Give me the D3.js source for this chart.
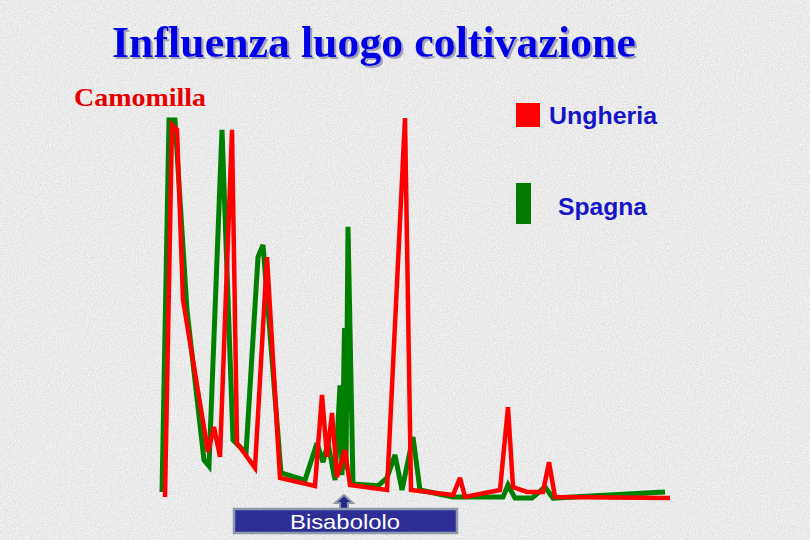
<!DOCTYPE html>
<html>
<head>
<meta charset="utf-8">
<script src="https://cdn.jsdelivr.net/npm/d3@7"></script>
<style>
html,body{margin:0;padding:0;background:#e6e6e6;}
svg{display:block;}
</style>
</head>
<body>
<svg id="chart" width="810" height="540"></svg>
<script>
// Retention time (min) and relative intensity (%)
const ungheriaTime = [0.5,1.2,1.7,2.3,4.8,5.4,6.0,7.2,7.7,8.7,9.5,10.7,12.0,15.5,16.2,16.7,17.2,17.7,18.5,19.0,22.7,24.5,25.1,29.3,30.0,30.5,34.0,34.8,35.3,36.7,38.3,38.9,39.5,51.0];
const ungheriaInt  = [0.8,98.2,96.9,52.4,12.6,19.1,11.3,96.9,14.9,11.3,8.4,63.6,5.8,3.7,27.5,11.3,22.8,6.0,13.1,3.9,2.6,100,2.6,1.3,5.8,0.8,2.6,24.3,3.4,2.1,2.1,9.9,0.8,0.5];

const spagnaTime = [0.2,0.9,1.5,2.7,4.4,4.9,6.2,7.3,8.6,9.8,10.3,12.1,14.5,15.7,16.3,16.8,17.5,18.0,18.2,18.45,18.6,18.8,19.3,21.8,22.7,23.5,24.2,25.3,26.0,29.3,34.3,34.8,35.5,37.2,38.5,39.3,50.5];
const spagnaInt  = [2.1,99.5,99.5,49.7,10.5,8.9,96.9,15.7,12.3,63.6,66.8,7.1,5.2,14.9,9.9,14.9,5.2,30.0,6.5,45.0,8.0,71.5,4.2,3.7,5.8,11.8,2.6,16.5,2.6,0.8,0.8,3.9,0.5,0.5,3.4,0.5,2.1];

const seriesNames = ["Ungheria","Spagna"];
const titleText = "Influenza luogo coltivazione";
const subtitleText = "Camomilla";
const markerLabel = "Bisabololo";
const markerTime = 18.5;

const svg = d3.select("#chart");
const W = 810, H = 540;

// background texture
const defs = svg.append("defs");
const f = defs.append("filter").attr("id","noise").attr("x",0).attr("y",0).attr("width","100%").attr("height","100%");
f.append("feTurbulence").attr("type","fractalNoise").attr("baseFrequency",0.85).attr("numOctaves",2).attr("seed",3).attr("result","t");
f.append("feColorMatrix").attr("in","t").attr("type","matrix")
  .attr("values","0 0 0 0 1  0 0 0 0 1  0 0 0 0 1  1.6 0 0 0 -0.55");
const f2 = defs.append("filter").attr("id","noise2").attr("x",0).attr("y",0).attr("width","100%").attr("height","100%");
f2.append("feTurbulence").attr("type","fractalNoise").attr("baseFrequency",0.7).attr("numOctaves",1).attr("seed",9).attr("result","t");
f2.append("feColorMatrix").attr("in","t").attr("type","matrix")
  .attr("values","0 0 0 0 0.55  0 0 0 0 0.55  0 0 0 0 0.55  1.4 0 0 0 -0.8");
const sh = defs.append("filter").attr("id","shadow").attr("x","-5%").attr("y","-20%").attr("width","110%").attr("height","140%");
sh.append("feDropShadow").attr("dx",2).attr("dy",2).attr("stdDeviation",0.6).attr("flood-color","#9a9aae").attr("flood-opacity",0.9);

svg.append("rect").attr("width",W).attr("height",H).attr("fill","#e4e4e4");
svg.append("rect").attr("width",W).attr("height",H).attr("filter","url(#noise)");
svg.append("rect").attr("width",W).attr("height",H).attr("filter","url(#noise2)");

// scales
const x = d3.scaleLinear().domain([0,51]).range([160,670]);
const y = d3.scaleLinear().domain([0,100]).range([500,118]);

const line = d3.line().x(d=>x(d[0])).y(d=>y(d[1]));
const green = d3.zip(spagnaTime, spagnaInt);
const red = d3.zip(ungheriaTime, ungheriaInt);

svg.append("path").datum(green).attr("d",line).attr("fill","none")
  .attr("stroke","#008000").attr("stroke-width",5).attr("stroke-linejoin","miter").attr("stroke-miterlimit",3);
svg.append("path").datum(red).attr("d",line).attr("fill","none")
  .attr("stroke","#ff0000").attr("stroke-width",4.5).attr("stroke-linejoin","miter").attr("stroke-miterlimit",3);

// title with shadow
svg.append("text").attr("x",374).attr("y",57).attr("text-anchor","middle")
  .attr("font-family","Liberation Serif, Times New Roman, serif").attr("font-weight","bold")
  .attr("font-size",44).attr("textLength",524).attr("lengthAdjust","spacingAndGlyphs")
  .attr("fill","#0000e6").attr("filter","url(#shadow)").text(titleText);

svg.append("text").attr("x",74).attr("y",106)
  .attr("font-family","Liberation Serif, Times New Roman, serif").attr("font-weight","bold")
  .attr("font-size",25).attr("textLength",132).attr("lengthAdjust","spacingAndGlyphs")
  .attr("fill","#e60000").text(subtitleText);

// legend
const legend = svg.append("g");
legend.append("rect").attr("x",516).attr("y",103).attr("width",24).attr("height",24).attr("fill","#ff0000");
legend.append("text").attr("x",549).attr("y",124)
  .attr("font-family","Liberation Sans, Arial, sans-serif").attr("font-weight","bold")
  .attr("font-size",24).attr("textLength",108).attr("lengthAdjust","spacingAndGlyphs")
  .attr("fill","#1414c8").text(seriesNames[0]);
legend.append("rect").attr("x",516).attr("y",183).attr("width",15).attr("height",41).attr("fill","#007a00");
legend.append("text").attr("x",558).attr("y",215)
  .attr("font-family","Liberation Sans, Arial, sans-serif").attr("font-weight","bold")
  .attr("font-size",24).attr("textLength",89).attr("lengthAdjust","spacingAndGlyphs")
  .attr("fill","#1414c8").text(seriesNames[1]);

// Bisabololo marker
const mx = x(markerTime) - 1;
const mk = svg.append("g");
mk.append("path")
  .attr("d",`M${mx},${495} L${mx+9},${503} L${mx+4},${503} L${mx+4},${509} L${mx-4},${509} L${mx-4},${503} L${mx-9},${503} Z`)
  .attr("fill","#26268c").attr("stroke","#8c9aac").attr("stroke-width",2).attr("stroke-linejoin","miter");
mk.append("rect").attr("x",234).attr("y",509).attr("width",223).attr("height",24)
  .attr("fill","#2e2e96").attr("stroke","#8c9aac").attr("stroke-width",2.5);
mk.append("text").attr("x",345).attr("y",529).attr("text-anchor","middle")
  .attr("font-family","Liberation Sans, Arial, sans-serif").attr("font-size",21)
  .attr("textLength",110).attr("lengthAdjust","spacingAndGlyphs")
  .attr("fill","#ffffff").text(markerLabel);
</script>
</body>
</html>
